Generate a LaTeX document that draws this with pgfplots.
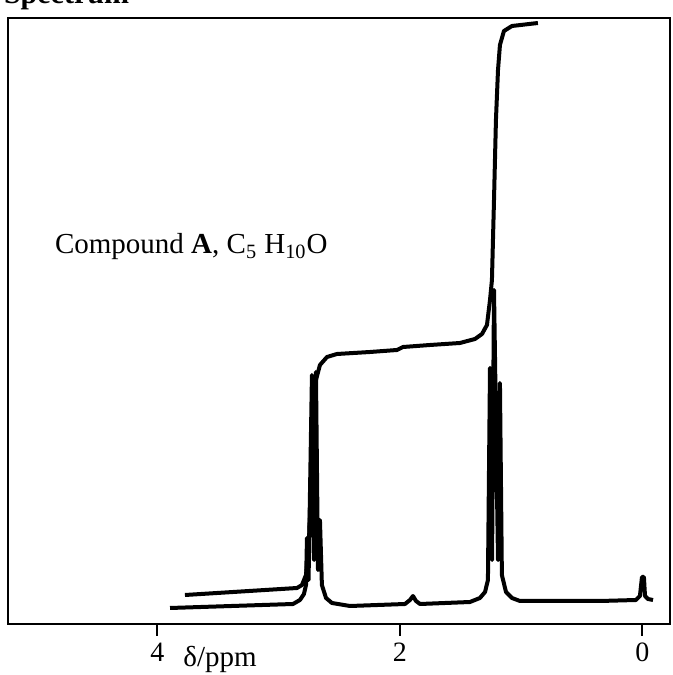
\documentclass[border=0pt]{standalone}
\usepackage{fontspec}
\setmainfont{Liberation Serif}
\usepackage{pgfplots}
\pgfplotsset{compat=1.18}

% x in ppm, y is signal height (arbitrary units)
\pgfplotstableread{
x y
3.895 16
2.881 20
2.824 24
2.791 30
2.774 39
2.766 86
2.753 44
2.725 249
2.708 64
2.692 252
2.675 54
2.659 104
2.643 39
2.609 26
2.560 21
2.411 18
1.958 20
1.917 24
1.892 28
1.867 23
1.834 20
1.422 22
1.340 26
1.298 32
1.274 44
1.257 256
1.240 64
1.224 334
1.191 64
1.175 241
1.159 49
1.125 32
1.076 26
1.010 23
0.350 23
0.054 24
0.021 28
0.004 47
-0.012 47
-0.021 28
-0.045 25
-0.087 24
}\spectrum

\pgfplotstableread{
x y
3.772 29
2.848 36
2.807 39
2.774 49
2.749 84
2.725 174
2.692 244
2.659 259
2.601 267
2.519 270
2.247 272
2.024 274
1.974 277
1.752 279
1.505 281
1.381 285
1.323 290
1.282 299
1.257 324
1.241 344
1.224 424
1.208 504
1.191 554
1.175 579
1.142 593
1.076 598
0.862 601
}\integral

\begin{document}
\begin{tikzpicture}
\begin{axis}[
    at={(4pt,25.5pt)}, anchor=south west,
    scale only axis, width=331pt, height=303pt,
    x dir=reverse,
    xmin=-0.227, xmax=5.231, ymin=0, ymax=606,
    xtick={0,2,4}, ytick=\empty,
    xtick pos=bottom, tick align=outside,
    major tick length=6pt,
    tick style={line width=1pt, black},
    axis line style={line width=1.3pt},
    /pgf/number format/assume math mode=true,
    xticklabel style={font=\fontsize{14}{16}\selectfont},
    clip=false,
]
\addplot[black, line width=2pt, line join=round] table[x=x, y=y] {\spectrum};
\addplot[black, line width=2pt, line join=round] table[x=x, y=y] {\integral};
\end{axis}
\node[anchor=base west, font=\bfseries\fontsize{15}{18}\selectfont] at (-1.5pt,335.5pt) {Spectrum};
\node[anchor=base west, font=\fontsize{14.5}{17}\selectfont] at (24pt,210.5pt)
  {Compound \textbf{A}, C\textsubscript{5} H\textsubscript{10}O};
\node[font=\fontsize{14.5}{17}\selectfont] at (110pt,8pt) {δ/ppm};
\pgfresetboundingbox
\useasboundingbox (0,0) rectangle (336.5pt,337.5pt);
\end{tikzpicture}
\end{document}
